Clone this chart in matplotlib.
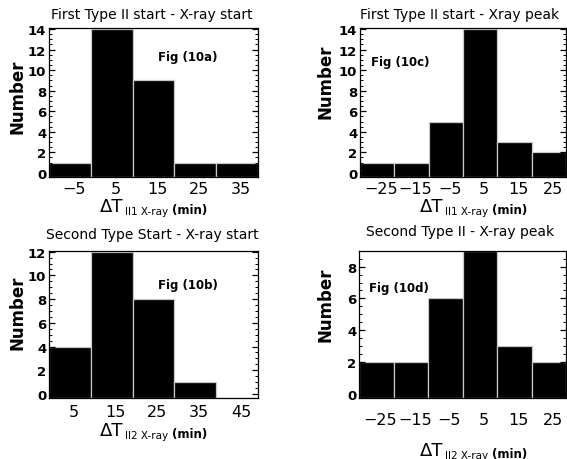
import matplotlib
matplotlib.use("Agg")
import matplotlib.pyplot as plt
from matplotlib.ticker import MultipleLocator
import matplotlib.transforms as mtransforms

W, H = 567, 460

# ---- data ----
centers_a = [-5, 5, 15, 25, 35]
counts_a = [1, 14, 9, 1, 1]
centers_b = [5, 15, 25, 35, 45]
counts_b = [4, 12, 8, 1, 0]
centers_c = [-25, -15, -5, 5, 15, 25]
counts_c = [1, 1, 5, 14, 3, 2]
centers_d = [-25, -15, -5, 5, 15, 25]
counts_d = [2, 2, 6, 9, 3, 2]
xticklabels_a = ["\u22125", "5", "15", "25", "35"]
xticklabels_b = ["5", "15", "25", "35", "45"]
xticklabels_cd = ["\u221225", "\u221215", "\u22125", "5", "15", "25"]

titles = ["First Type II start - X-ray start",
          "First Type II start - Xray peak",
          "Second Type Start - X-ray start",
          "Second Type II - X-ray peak"]
figlabels = ["Fig (10a)", "Fig (10c)", "Fig (10b)", "Fig (10d)"]
subs = ["II1 X-ray", "II1 X-ray", "II2 X-ray", "II2 X-ray"]

fig = plt.figure(figsize=(W / 100, H / 100), dpi=100)


def fx(x):
    return x / W


def fy(y):
    return 1 - y / H


def make_axes(l, r, t, b):
    return fig.add_axes([fx(l), fy(b), (r - l) / W, (b - t) / H])


panels = [
    dict(box=(49, 258, 29, 178), c=centers_a, n=counts_a, lab=xticklabels_a,
         xlim=(-10, 40), ylim=(-0.4, 14.1), pad=3, major=2,
         title_y=15, title_x=152, ylab=(17, 97), fig_xy=(16.0, 11.3),
         xl=(100, 212)),
    dict(box=(360, 566, 29, 178), c=centers_c, n=counts_c, lab=xticklabels_cd,
         xlim=(-30, 30), ylim=(-0.4, 14.1), pad=3, major=2,
         title_y=15, title_x=460, ylab=(325, 82), fig_xy=(-26.8, 10.8),
         xl=(420, 212)),
    dict(box=(49, 258, 252, 399), c=centers_b, n=counts_b, lab=xticklabels_b,
         xlim=(0, 50), ylim=(-0.34, 12.06), pad=4, major=2,
         title_y=235, title_x=152, ylab=(17, 313), fig_xy=(26.1, 9.2),
         xl=(100, 436)),
    dict(box=(359, 566, 252, 399), c=centers_d, n=counts_d, lab=xticklabels_cd,
         xlim=(-30, 30), ylim=(-0.25, 8.98), pad=10, major=2,
         title_y=232, title_x=460, ylab=(325, 305), fig_xy=(-27.1, 6.7),
         xl=(420, 456)),
]

for i, p in enumerate(panels):
    ax = make_axes(*p["box"])
    y0 = p["ylim"][0]
    heights = [v - y0 if v > 0 else 0 for v in p["n"]]
    ax.bar(p["c"], heights, width=10, bottom=y0, color="black",
           edgecolor="#c8c8c8", linewidth=0.9, align="center")
    ax.set_xlim(*p["xlim"])
    ax.set_ylim(*p["ylim"])
    ax.yaxis.set_major_locator(MultipleLocator(p["major"]))
    ax.yaxis.set_minor_locator(MultipleLocator(p["major"] / 4))
    ax.tick_params(axis="y", which="both", direction="in", left=True,
                   right=True, labelsize=9.5, pad=2)
    ax.tick_params(axis="y", which="major", length=4, width=0.9)
    ax.tick_params(axis="y", which="minor", length=2, width=0.7)
    for lbl in ax.get_yticklabels():
        lbl.set_fontweight("bold")
    ax.set_xticks(p["c"])
    ax.set_xticklabels(p["lab"])
    ax.tick_params(axis="x", length=0, labelsize=11.5, pad=p["pad"])
    off = mtransforms.ScaledTranslation(4 / 100, 0, fig.dpi_scale_trans)
    for lbl in ax.get_xticklabels():
        lbl.set_transform(lbl.get_transform() + off)
    for s in ax.spines.values():
        s.set_linewidth(0.9)

    ax.text(p["fig_xy"][0], p["fig_xy"][1], figlabels[i], fontsize=8.5,
            fontweight="bold", va="center", ha="left")

    fig.text(fx(p["title_x"]), fy(p["title_y"]), titles[i], fontsize=10,
             ha="center", va="center")
    fig.text(fx(p["ylab"][0]), fy(p["ylab"][1]), "Number", fontsize=12,
             fontweight="bold", rotation=90, ha="center", va="center")

    t1 = fig.text(fx(p["xl"][0]), fy(p["xl"][1]), "\u0394T", fontsize=13,
                  ha="left", va="baseline")
    t2 = ax.annotate(subs[i], xy=(1, 0), xycoords=t1, xytext=(1, -1),
                     textcoords="offset points", fontsize=7.5,
                     ha="left", va="bottom", annotation_clip=False)
    t3 = ax.annotate("(min)", xy=(1, 0), xycoords=t2, xytext=(3, 0),
                     textcoords="offset points", fontsize=8.5,
                     fontweight="bold", ha="left", va="bottom",
                     annotation_clip=False)

fig.savefig("out.png", dpi=100)
